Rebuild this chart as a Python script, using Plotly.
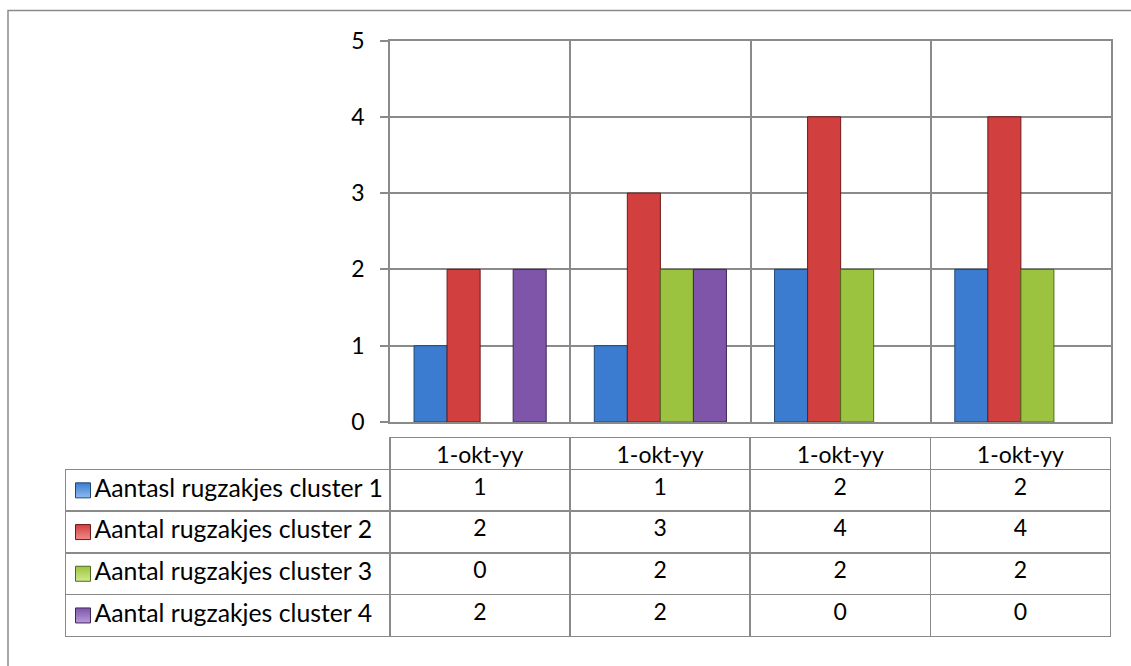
import plotly.graph_objects as go

# ---- data ----
categories = ["1-okt-yy", "1-okt-yy", "1-okt-yy", "1-okt-yy"]
series_names = [
    "Aantasl rugzakjes cluster 1",
    "Aantal rugzakjes cluster 2",
    "Aantal rugzakjes cluster 3",
    "Aantal rugzakjes cluster 4",
]
cluster1 = [1, 1, 2, 2]
cluster2 = [2, 3, 4, 4]
cluster3 = [0, 2, 2, 2]
cluster4 = [2, 2, 0, 0]
y_ticks = [0, 1, 2, 3, 4, 5]

series_values = [cluster1, cluster2, cluster3, cluster4]
fill_colors = ["#3c7cd0", "#d13f3f", "#9cc340", "#7e55a9"]
light_colors = ["#8dbcf2", "#f08a8a", "#d2ea8c", "#b99ada"]
edge_colors = ["#1f4670", "#6e1a1a", "#4f6a1c", "#3d2858"]

W, H = 1131, 666
FONT = "Lato, 'Open Sans', sans-serif"
GRID = "#8a8a8a"
TXT = "#000000"
FS = 23
FS_LABEL = 24.8
LABEL_COL_W = 324.5


def px_x(p):
    return p / W


def px_y(p):
    return 1 - p / H


fig = go.Figure()

xpos = list(range(len(categories)))
for name, vals, fc, ec in zip(series_names, series_values, fill_colors, edge_colors):
    fig.add_trace(go.Bar(
        x=xpos, y=[v if v else None for v in vals], name=name,
        marker=dict(color=fc, line=dict(color=ec, width=1)),
        showlegend=False,
        hoverinfo="y",
    ))

# ---- data table: header row = categories, body = one row per series ----
columns = [[""] * len(series_names)] + [
    [str(series_values[s][j]) for s in range(len(series_names))]
    for j in range(len(categories))
]

fig.add_trace(go.Table(
    domain=dict(x=[px_x(65.5), px_x(1111)], y=[px_y(640), px_y(437.5)]),
    columnwidth=[LABEL_COL_W, 180.25, 180.25, 180.25, 180.25],
    header=dict(
        values=[""] + categories,
        height=32,
        align="center",
        line=dict(color=["rgba(0,0,0,0)"] + [GRID] * len(categories), width=1.5),
        fill=dict(color="rgba(0,0,0,0)"),
        font=dict(family=FONT, size=FS, color=TXT),
    ),
    cells=dict(
        values=columns,
        height=41.7,
        align=["left"] + ["center"] * len(categories),
        line=dict(color=GRID, width=1.5),
        fill=dict(color="rgba(0,0,0,0)"),
        font=dict(family=FONT, size=FS, color=TXT),
    ),
))

# ---- legend keys + series names in the table's label column ----
rows = list(range(len(series_names)))
fig.add_trace(go.Scatter(
    x=[17.5] * len(series_names), y=rows,
    mode="markers",
    marker=dict(
        symbol="square", size=15,
        color=fill_colors,
        line=dict(color=edge_colors, width=1),
        gradient=dict(type="vertical", color=light_colors),
    ),
    xaxis="x2", yaxis="y2",
    showlegend=False, hoverinfo="skip",
))
fig.add_trace(go.Scatter(
    x=[29] * len(series_names), y=rows,
    mode="text", text=series_names, textposition="middle right",
    textfont=dict(family=FONT, size=FS_LABEL, color=TXT),
    xaxis="x2", yaxis="y2",
    showlegend=False, hoverinfo="skip",
))

fig.update_layout(
    template="none",
    width=W, height=H,
    margin=dict(l=0, r=0, t=0, b=0, autoexpand=False),
    paper_bgcolor="white",
    plot_bgcolor="rgba(0,0,0,0)",
    barmode="group",
    bargap=0.267,
    bargroupgap=0,
    showlegend=False,
    font=dict(family=FONT, size=FS, color=TXT),
    xaxis=dict(
        domain=[px_x(390), px_x(1111)],
        range=[-0.5, len(categories) - 0.5],
        tickvals=[i + 0.5 for i in range(len(categories) - 1)],
        showticklabels=False,
        ticks="",
        showgrid=True, gridcolor=GRID, gridwidth=1.5,
        showline=True, linecolor=GRID, linewidth=1.5, mirror=True,
        zeroline=False, fixedrange=True, automargin=False,
    ),
    yaxis=dict(
        domain=[px_y(422), px_y(40.5)],
        range=[0, 5],
        tickvals=y_ticks,
        ticks="outside", ticklen=8, tickcolor=GRID, tickwidth=1.5,
        ticklabelstandoff=11,
        tickfont=dict(family=FONT, size=FS, color=TXT),
        showgrid=True, gridcolor=GRID, gridwidth=1.5,
        showline=True, linecolor=GRID, linewidth=1.5, mirror=True,
        zeroline=False, fixedrange=True, automargin=False,
    ),
    xaxis2=dict(
        domain=[px_x(65.5), px_x(390)], range=[0, LABEL_COL_W],
        visible=False, fixedrange=True, automargin=False,
    ),
    yaxis2=dict(
        domain=[px_y(636.3), px_y(469.5)],
        range=[len(series_names) - 0.5, -0.5],
        visible=False, fixedrange=True, automargin=False,
    ),
    shapes=[dict(
        type="rect", xref="paper", yref="paper",
        x0=px_x(8), x1=1.05, y0=-0.05, y1=px_y(10.5),
        line=dict(color=GRID, width=1.5), fillcolor="rgba(0,0,0,0)",
        layer="below",
    )],
)

fig.write_html(
    "out.html",
    config={"responsive": False, "displayModeBar": False},
    post_script="document.body.style.margin='0';document.body.style.overflow='hidden';",
)
